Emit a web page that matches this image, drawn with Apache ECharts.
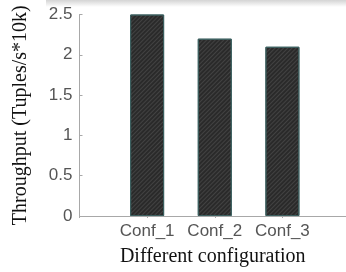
<!DOCTYPE html>
<html>
<head>
<meta charset="utf-8">
<script src="https://cdn.jsdelivr.net/npm/echarts@6/dist/echarts.min.js"></script>
<style>
html, body { margin: 0; padding: 0; background: #fff; }
#chart { width: 346px; height: 272px; }
</style>
</head>
<body>
<div id="chart"></div>
<script>
var categories = ['Conf_1', 'Conf_2', 'Conf_3'];
var throughput = [2.5, 2.2, 2.1];
var yTicks = [0, 0.5, 1, 1.5, 2, 2.5];

var barData = throughput.map(function (v, i) { return [i + 1, v]; });

var chart = echarts.init(document.getElementById('chart'));

var axisGray = '#a8a8a8';

var option = {
    animation: false,
    graphic: [{
        type: 'rect',
        shape: { x: 46, y: 0, width: 300, height: 7 },
        style: {
            fill: new echarts.graphic.LinearGradient(0, 0, 0, 1, [
                { offset: 0, color: '#d4d4d4' },
                { offset: 1, color: '#ffffff' }
            ])
        },
        silent: true,
        z: -10
    }],
    grid: {
        left: 79.5,
        right: 0,
        top: 14.5,
        bottom: 56
    },
    xAxis: [{
        type: 'value',
        min: 0,
        max: 3.94,
        interval: 1,
        splitLine: { show: false },
        axisLine: { show: true, onZero: false, lineStyle: { color: axisGray } },
        axisTick: { show: false },
        axisLabel: {
            color: '#555',
            fontFamily: 'Liberation Sans',
            fontSize: 17,
            margin: 7,
            showMaxLabel: false,
            formatter: function (v) { return categories[v - 1] || ''; }
        },
        name: 'Different configuration',
        nameLocation: 'middle',
        nameGap: 31,
        nameTextStyle: { fontFamily: 'Liberation Serif', fontSize: 20, color: '#111' }
    }, {
        type: 'value',
        position: 'top',
        min: 0,
        max: 3.94,
        interval: 1,
        splitLine: { show: false },
        axisLine: { show: true, lineStyle: { color: axisGray } },
        axisTick: { show: true, inside: true, length: 2, lineStyle: { color: axisGray } },
        axisLabel: { show: false }
    }],
    yAxis: {
        type: 'value',
        min: 0,
        max: 2.5,
        interval: 0.5,
        splitLine: { show: false },
        axisLine: { show: true, lineStyle: { color: axisGray } },
        axisTick: { show: true, inside: true, length: 3, lineStyle: { color: axisGray } },
        axisLabel: {
            color: '#555',
            fontFamily: 'Liberation Sans',
            fontSize: 17,
            margin: 7,
            formatter: function (v) { return yTicks.indexOf(v) >= 0 ? String(v) : ''; }
        },
        name: 'Throughput (Tuples/s*10k)',
        nameLocation: 'middle',
        nameGap: 49,
        nameTextStyle: { fontFamily: 'Liberation Serif', fontSize: 20, color: '#111' }
    },
    series: [{
        type: 'bar',
        xAxisIndex: 0,
        data: barData,
        barWidth: 34,
        itemStyle: {
            color: '#2a2a2a',
            borderColor: '#3b5f5f',
            borderWidth: 1,
            decal: {
                symbol: 'rect',
                color: 'rgba(90,90,90,0.5)',
                dashArrayX: [1, 0],
                dashArrayY: [1, 2],
                rotation: -Math.PI / 4
            }
        }
    }]
};

chart.setOption(option);
</script>
</body>
</html>
